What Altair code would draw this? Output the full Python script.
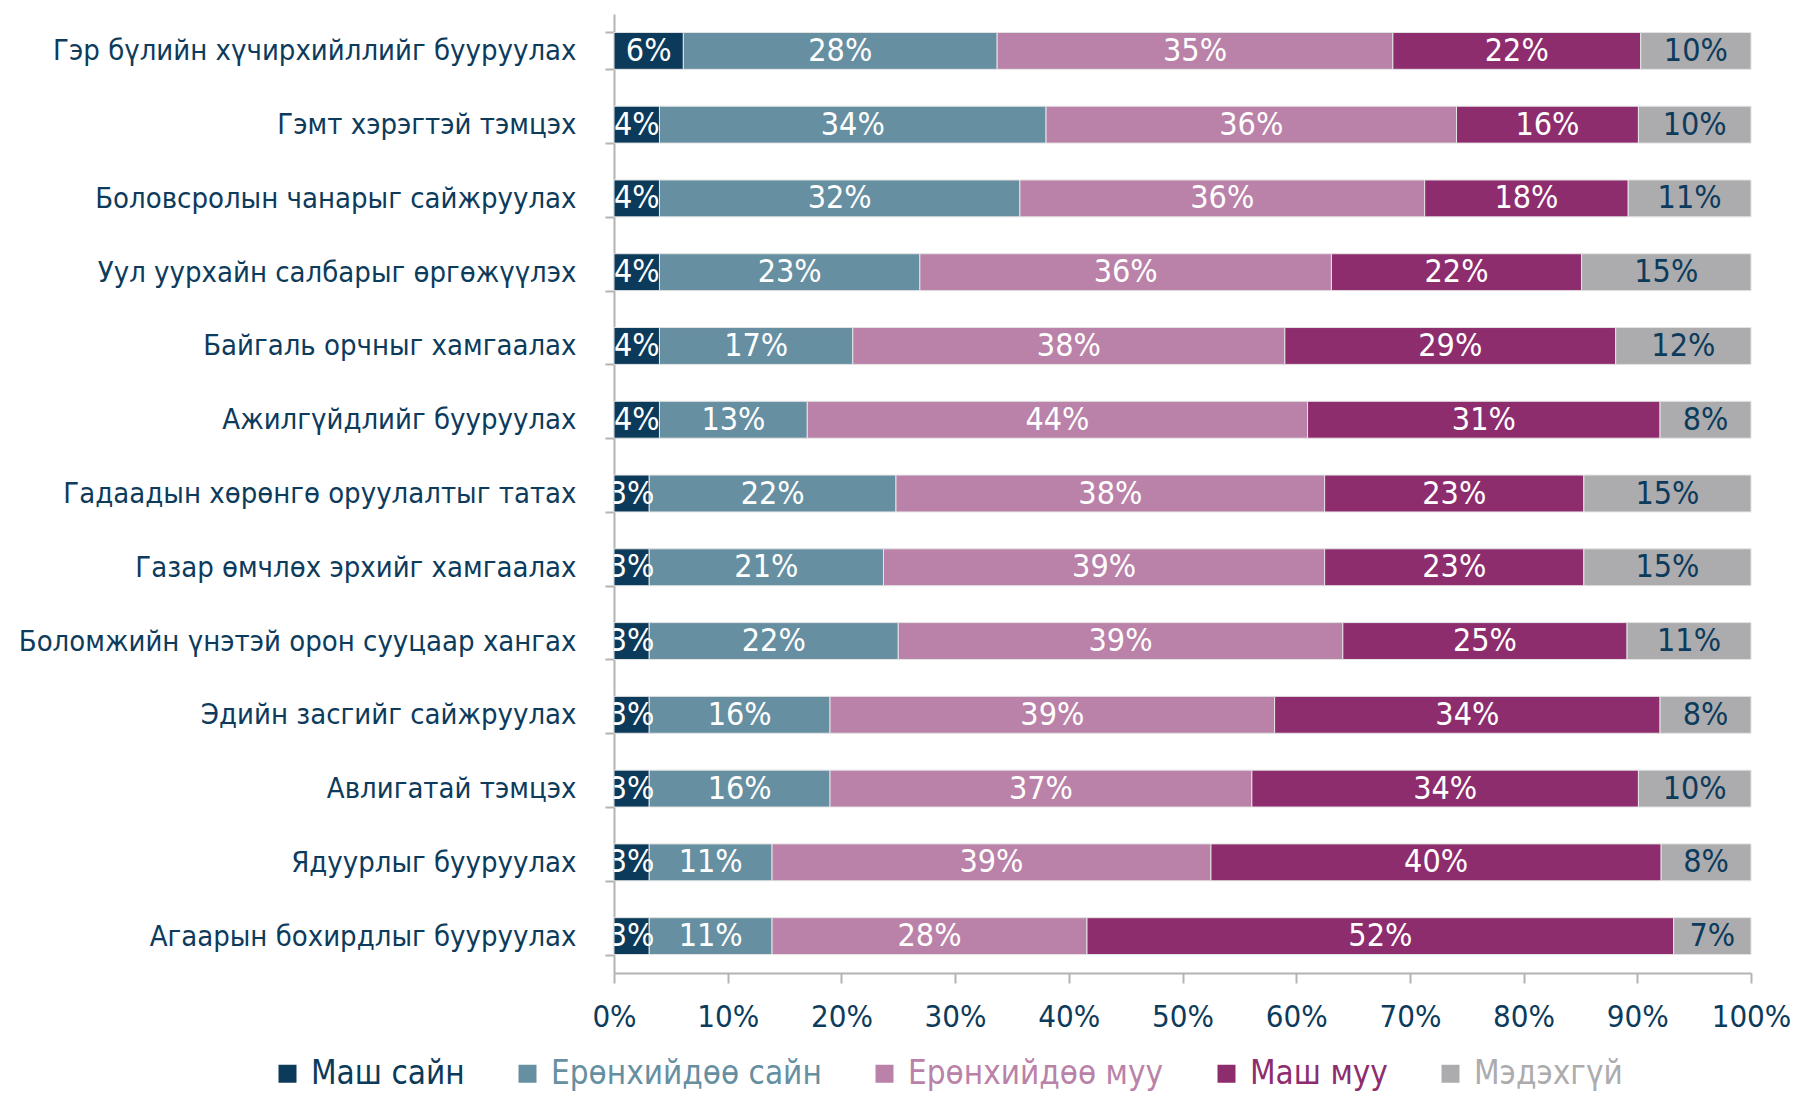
import altair as alt
import pandas as pd

items = [
    "Гэр бүлийн хүчирхийллийг бууруулах",
    "Гэмт хэрэгтэй тэмцэх",
    "Боловсролын чанарыг сайжруулах",
    "Уул уурхайн салбарыг өргөжүүлэх",
    "Байгаль орчныг хамгаалах",
    "Ажилгүйдлийг бууруулах",
    "Гадаадын хөрөнгө оруулалтыг татах",
    "Газар өмчлөх эрхийг хамгаалах",
    "Боломжийн үнэтэй орон сууцаар хангах",
    "Эдийн засгийг сайжруулах",
    "Авлигатай тэмцэх",
    "Ядуурлыг бууруулах",
    "Агаарын бохирдлыг бууруулах",
]
categories = ["Маш сайн", "Ерөнхийдөө сайн", "Ерөнхийдөө муу", "Маш муу", "Мэдэхгүй"]
colors = ["#0b3a5a", "#668fa1", "#ba82a8", "#8e2d6e", "#acacae"]

very_good = [6.1, 4.0, 4.0, 4.0, 4.0, 4.0, 3.1, 3.1, 3.1, 3.1, 3.1, 3.1, 3.1]
good = [27.6, 34.0, 31.7, 22.9, 17.0, 13.0, 21.7, 20.6, 21.9, 15.9, 15.9, 10.8, 10.8]
bad = [34.8, 36.1, 35.6, 36.2, 38.0, 44.0, 37.7, 38.8, 39.1, 39.1, 37.1, 38.6, 27.7]
very_bad = [21.8, 16.0, 17.9, 22.0, 29.1, 31.0, 22.8, 22.8, 25.0, 33.9, 34.0, 39.6, 51.6]
dont_know = [9.7, 9.9, 10.8, 14.9, 11.9, 8.0, 14.7, 14.7, 10.9, 8.0, 9.9, 7.9, 6.8]

x_ticks = [0, 10, 20, 30, 40, 50, 60, 70, 80, 90, 100]

series = [very_good, good, bad, very_bad, dont_know]
rows = []
for ci, (cat, vals) in enumerate(zip(categories, series)):
    for item, v in zip(items, vals):
        rows.append({"item": item, "category": cat, "order": ci, "value": v})
df = pd.DataFrame(rows)

NAVY = "#0d3b5c"
AXIS_GRAY = "#b3b3b3"
FONT = "DejaVu Sans Condensed, sans-serif"

base = alt.Chart(df).transform_stack(
    stack="value", groupby=["item"], as_=["v0", "v1"], sort=[alt.SortField("order")]
).transform_calculate(
    mid="(datum.v0 + datum.v1) / 2",
    label="format(round(datum.value), 'd') + '%'",
)

y_enc = alt.Y(
    "item:N",
    sort=items,
    scale=alt.Scale(paddingInner=0.5, paddingOuter=0.25),
    axis=alt.Axis(
        title=None,
        labelFont=FONT,
        labelFontSize=29,
        labelColor=NAVY,
        labelPadding=29,
        labelLimit=0,
        tickBand="extent",
        tickSize=9,
        tickWidth=2,
        tickColor=AXIS_GRAY,
        domainColor=AXIS_GRAY,
        domainWidth=2,
    ),
)

bars = base.mark_bar(stroke="#e4e4e4", strokeWidth=1).encode(
    x=alt.X(
        "v0:Q",
        scale=alt.Scale(domain=[0, 100], nice=False),
        axis=alt.Axis(
            title=None,
            values=x_ticks,
            labelExpr="datum.value + '%'",
            labelFont=FONT,
            labelFontSize=31,
            labelColor=NAVY,
            labelPadding=19,
            tickSize=10,
            tickWidth=2,
            tickColor=AXIS_GRAY,
            domainColor=AXIS_GRAY,
            domainWidth=2,
            grid=False,
            labelFlush=False,
        ),
    ),
    x2="v1:Q",
    y=y_enc,
    color=alt.Color(
        "category:N",
        sort=categories,
        scale=alt.Scale(domain=categories, range=colors),
        legend=alt.Legend(
            title=None,
            orient="none",
            legendX=-343,
            legendY=1043,
            direction="horizontal",
            symbolType="square",
            symbolSize=324,
            symbolStrokeWidth=0,
            labelFont=FONT,
            labelFontSize=33,
            labelLimit=0,
            labelOffset=7,
            columnPadding=46,
            labelColor=alt.ExprRef(expr="scale('color', datum.value)"),
        ),
    ),
)

texts = base.mark_text(font=FONT, fontSize=32, clip=True).encode(
    x=alt.X("mid:Q"),
    y=alt.Y("item:N", sort=items),
    text="label:N",
    color=alt.condition(alt.datum.category == "Мэдэхгүй", alt.value(NAVY), alt.value("white")),
)

chart = alt.layer(bars, texts).properties(
    width=1137,
    height=959,
    autosize=alt.AutoSizeParams(type="none"),
    padding={"left": 606, "top": 6, "right": 41, "bottom": 119},
).configure_view(strokeWidth=0)

chart.save("out.html", embed_options={"renderer": "svg", "actions": False})
